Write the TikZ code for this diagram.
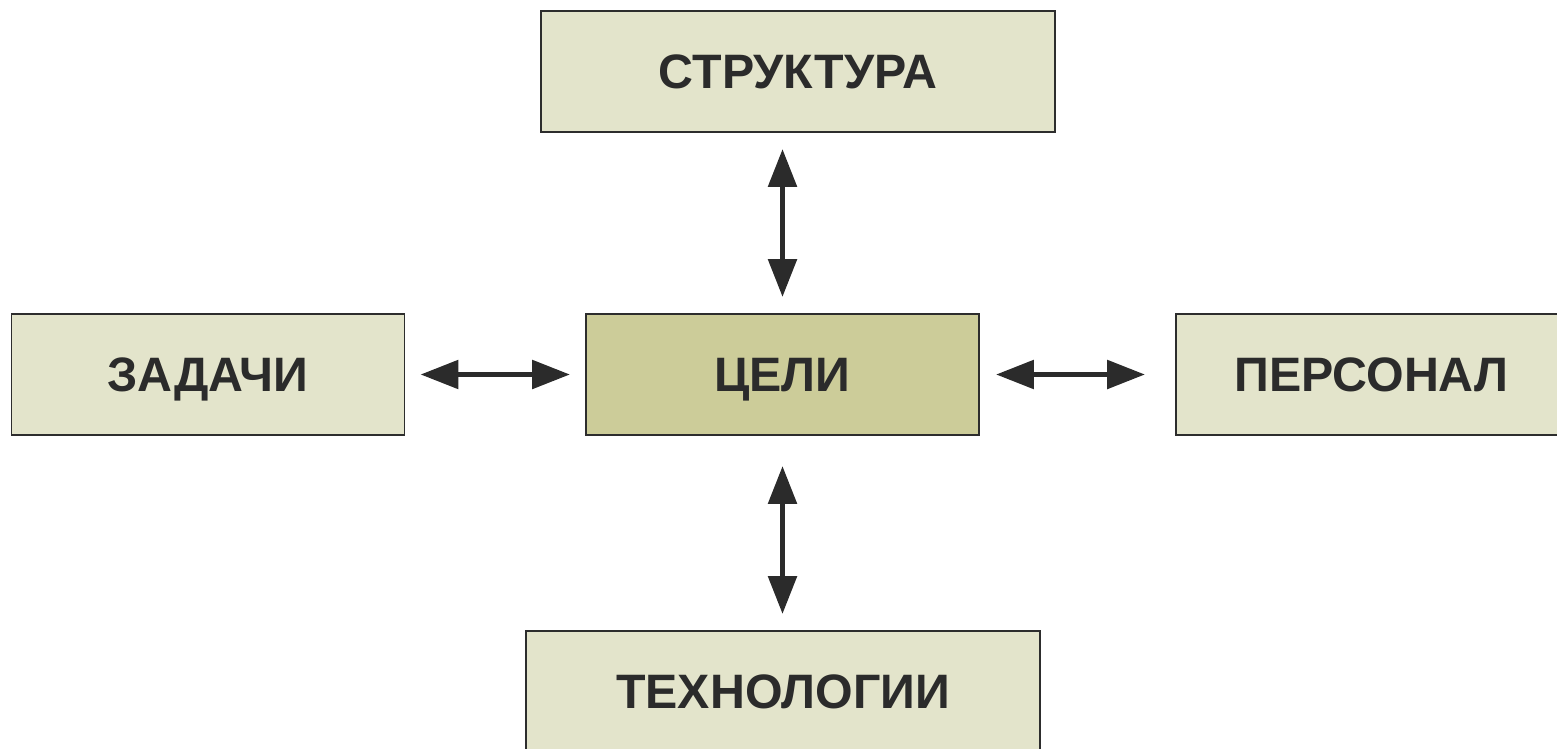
\documentclass[tikz,border=0pt]{standalone}
\usepackage{fontspec}
\setmainfont{Liberation Sans}
\usetikzlibrary{arrows.meta}

\begin{document}
\begin{tikzpicture}[
    box/.style={shape=rectangle,draw=goal_line,line width=1.1pt,fill=goal_bgbox,text=goal_text,
        minimum width=7.86cm,minimum height=2.42cm,text height=19.7pt,text depth=0pt,
        font=\fontsize{27.5}{33}\selectfont\bfseries},
    link/.style={{Triangle[width=0.56cm,length=0.76cm]}-{Triangle[width=0.56cm,length=0.76cm]},
        line width=3.2pt,draw=goal_text}
  ]
    \definecolor{goal_bgbox}{RGB}{227,228,203}
    \definecolor{goal_bgboxB}{RGB}{204,204,153}
    \definecolor{goal_line}{RGB}{45,45,45}
    \definecolor{goal_text}{RGB}{43,43,43}
    \useasboundingbox (0,0) rectangle (31.14,-14.98);
    \node[box,minimum width=10.28cm]   (struct) at (15.96,-1.43)  { СТРУКТУРА };
    \node[box]                         (tasks)  at (4.16,-7.49)   { ЗАДАЧИ };
    \node[box,fill=goal_bgboxB]        (goals)  at (15.65,-7.49)  { ЦЕЛИ };
    \node[box,minimum width=7.82cm]    (staff)  at (27.43,-7.49)  { ПЕРСОНАЛ };
    \node[box,minimum width=10.28cm]   (tech)   at (15.66,-13.83) { ТЕХНОЛОГИИ };
    % arrows
    \draw[link,shorten <=0.32cm,shorten >=0.32cm] (goals.north) -- (goals.north |- struct.south);
    \draw[link,shorten <=0.30cm,shorten >=0.30cm] (goals.west) -- (tasks.east);
    \draw[link,shorten <=0.32cm,shorten >=0.60cm] (goals.east) -- (staff.west);
    \draw[link,shorten <=0.60cm,shorten >=0.32cm] (goals.south) -- (goals.south |- tech.north);
\end{tikzpicture}
\end{document}
